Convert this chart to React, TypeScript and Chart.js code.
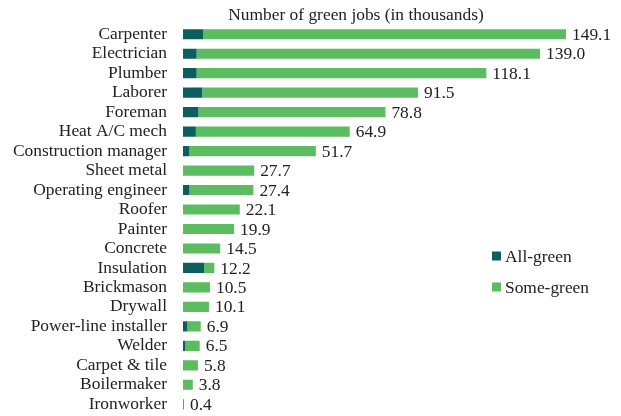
import React, { useEffect, useRef } from "react";
import { Chart, registerables } from "chart.js";

Chart.register(...registerables);

const categories = [
  "Carpenter", "Electrician", "Plumber", "Laborer", "Foreman", "Heat A/C mech",
  "Construction manager", "Sheet metal", "Operating engineer", "Roofer", "Painter",
  "Concrete", "Insulation", "Brickmason", "Drywall", "Power-line installer",
  "Welder", "Carpet & tile", "Boilermaker", "Ironworker",
];
const totals = [149.1, 139.0, 118.1, 91.5, 78.8, 64.9, 51.7, 27.7, 27.4, 22.1, 19.9, 14.5, 12.2, 10.5, 10.1, 6.9, 6.5, 5.8, 3.8, 0.4];
const allGreen = [7.8, 5.3, 5.3, 7.5, 6.0, 5.0, 2.5, 0, 2.5, 0, 0, 0, 8.2, 0, 0, 1.7, 0.9, 0, 0, 0.2];
const someGreen = totals.map((t, i) => +(t - allGreen[i]).toFixed(1));
const seriesNames = ["All-green", "Some-green"];
const colors = ["#0c5f5f", "#5bbd60"];
const title = "Number of green jobs (in thousands)";

const FONT = "'Liberation Serif', 'Times New Roman', serif";
const TEXT = "#222222";
const FS = 17.4;

const overlay = {
  id: "overlay",
  afterDatasetsDraw(chart: any) {
    const ctx = chart.ctx;
    ctx.save();
    ctx.font = `${FS}px ${FONT}`;
    ctx.fillStyle = TEXT;
    ctx.textAlign = "center";
    ctx.textBaseline = "middle";
    ctx.fillText(title, 356, 15);
    const x = chart.scales.x;
    const y = chart.scales.y;
    ctx.textAlign = "left";
    totals.forEach((t, i) => {
      ctx.fillText(t.toFixed(1), x.getPixelForValue(t) + 6, y.getPixelForValue(i) + 1);
    });
    const items = [
      { label: seriesNames[0], color: colors[0], y: 256 },
      { label: seriesNames[1], color: colors[1], y: 287 },
    ];
    items.forEach((it) => {
      ctx.fillStyle = it.color;
      ctx.fillRect(492, it.y - 4.5, 9, 9);
      ctx.fillStyle = TEXT;
      ctx.fillText(it.label, 505, it.y + 1);
    });
    ctx.restore();
  },
};

export default function App() {
  const ref = useRef<HTMLCanvasElement | null>(null);
  useEffect(() => {
    if (!ref.current) return;
    const chart = new Chart(ref.current, {
      type: "bar",
      data: {
        labels: categories,
        datasets: [
          { label: seriesNames[0], data: allGreen, backgroundColor: colors[0], barPercentage: 0.52, categoryPercentage: 1 },
          { label: seriesNames[1], data: someGreen, backgroundColor: colors[1], barPercentage: 0.52, categoryPercentage: 1 },
        ],
      },
      options: {
        indexAxis: "y",
        animation: false,
        responsive: false,
        maintainAspectRatio: false,
        layout: { padding: { top: 24.5, bottom: 2, left: 0, right: 27 } },
        plugins: { legend: { display: false }, tooltip: { enabled: false }, title: { display: false } },
        scales: {
          x: { stacked: true, display: false, min: 0, max: 160 },
          y: {
            stacked: true,
            grid: { display: false, drawTicks: false },
            border: { display: false },
            ticks: { font: { family: FONT, size: FS }, color: TEXT, padding: 16, autoSkip: false },
            afterFit: (s: any) => { s.width = 183; s.paddingTop = 0; s.paddingBottom = 0; },
          },
        },
      },
      plugins: [overlay],
    });
    return () => chart.destroy();
  }, []);
  return (
    <div style={{ position: "fixed", left: 0, top: 0, width: 621, height: 416, background: "#fff" }}>
      <canvas ref={ref} width={621} height={416} style={{ width: 621, height: 416 }} />
    </div>
  );
}
